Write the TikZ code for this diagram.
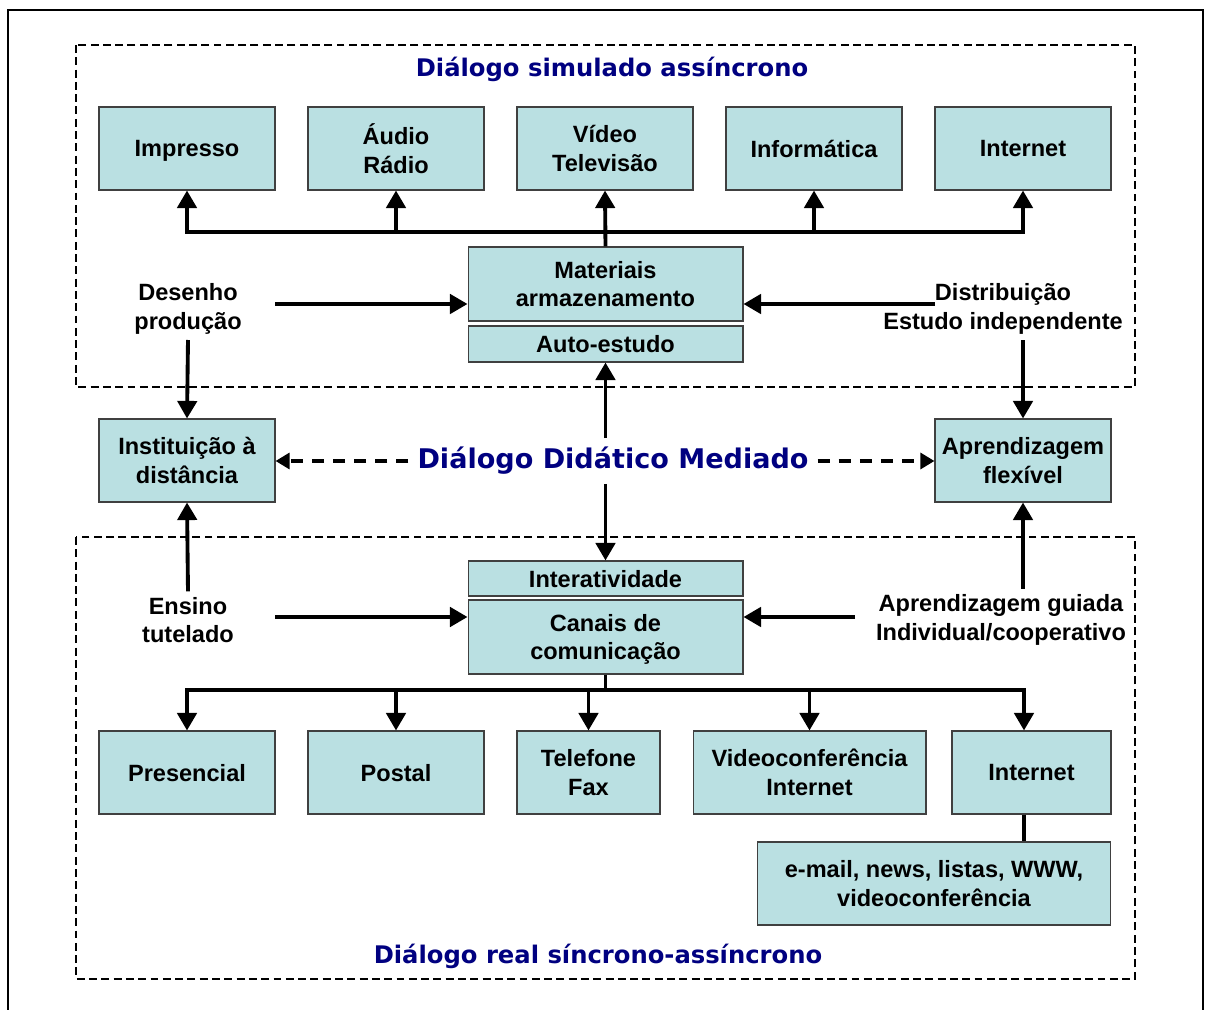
\documentclass[tikz,border=0pt]{standalone}
\usepackage{fontspec}
\setmainfont{Liberation Sans}
\newfontfamily\titlefont{DejaVu Sans}
\usetikzlibrary{arrows.meta}

\definecolor{boxfill}{RGB}{186,224,226}
\definecolor{titleblue}{RGB}{0,0,128}
\newcommand\boxfont{\bfseries\fontsize{13.4pt}{16.4pt}\selectfont}

\tikzset{
  caixa/.style={draw=black!75, fill=boxfill, line width=0.6pt, align=center,
    inner sep=0pt, text depth=0pt, minimum width=3.52cm, minimum height=1.66cm, font=\boxfont},
  rotulo/.style={align=center, inner sep=3pt, font=\boxfont},
  titulo/.style={font=\titlefont\bfseries\fontsize{13.8pt}{16pt}\selectfont, text=titleblue},
  titulogrande/.style={font=\titlefont\bfseries\fontsize{15.4pt}{19pt}\selectfont, text=titleblue, inner sep=5pt},
  linha/.style={line width=2.2pt},
  seta/.style={line width=2.2pt, -{Triangle[length=10pt,width=11pt]}},
  setas/.style={line width=2.2pt, {Triangle[length=10pt,width=11pt]}-{Triangle[length=10pt,width=11pt]}},
  tracejada/.style={line width=2pt, dash pattern=on 7pt off 5pt, -{Triangle[length=8pt,width=9pt]}},
  quadro/.style={line width=1.1pt, dash pattern=on 4.5pt off 2.5pt},
}

\begin{document}
\begin{tikzpicture}[x=0.02cm, y=-0.02cm]
  \useasboundingbox (0,0) rectangle (1205,1010);
  \draw[line width=1.2pt] (8,1015) -- (8,10) -- (1203,10) -- (1203,1015);

  \draw[quadro] (76,45) rectangle (1135,387);
  \draw[quadro] (76,537) rectangle (1135,979);

  \node[titulo] (simulado) at (612,69) {Diálogo simulado assíncrono};
  \node[titulo] (real) at (598,956) {Diálogo real síncrono-assíncrono};

  % materiais
  \node[caixa] (impresso) at (187,148.5) {Impresso};
  \node[caixa] (audio) at (396,148.5) {Áudio\\Rádio};
  \node[caixa] (video) at (605,148.5) {Vídeo\\Televisão};
  \node[caixa] (informatica) at (814,148.5) {Informática};
  \node[caixa] (internet) at (1023,148.5) {Internet};

  \node[caixa, minimum width=5.5cm, minimum height=1.48cm] (materiais) at (605.5,284) {Materiais\\armazenamento};
  \node[caixa, minimum width=5.5cm, minimum height=0.72cm] (autoestudo) at (605.5,344) {Auto-estudo};

  \node[rotulo] (desenho) at (188,309) {Desenho\\produção};
  \node[rotulo] (distribuicao) at (1003,309) {Distribuição\\Estudo independente};

  \coordinate (barra) at (0,232);
  \draw[seta] (materiais.north) -- (video.south);
  \draw[setas] (impresso.south) -- (impresso.south |- barra) -- (internet.south |- barra) -- (internet.south);
  \draw[seta] (audio.south |- barra) -- (audio.south);
  \draw[seta] (informatica.south |- barra) -- (informatica.south);

  \coordinate (d1) at (275,304);
  \coordinate (d2) at (935,304);
  \draw[seta] (d1) -- (d1 -| materiais.west);
  \draw[seta] (d2) -- (d2 -| materiais.east);

  % centro
  \node[caixa] (instituicao) at (187,460.5) {Instituição à\\distância};
  \node[caixa] (flexivel) at (1023,460.5) {Aprendizagem\\flexível};
  \node[titulogrande] (dialogo) at (613,461) {Diálogo Didático Mediado};

  \draw[seta] (desenho.south) -- (instituicao.north);
  \draw[seta] (distribuicao.south -| flexivel.north) -- (flexivel.north);
  \draw[tracejada] (dialogo.west) -- (dialogo.west -| instituicao.east);
  \draw[tracejada] (dialogo.east) -- (dialogo.east -| flexivel.west);

  % canais
  \node[caixa, minimum width=5.5cm, minimum height=0.7cm] (interatividade) at (605.5,578.5) {Interatividade};
  \node[caixa, minimum width=5.5cm, minimum height=1.48cm] (canais) at (605.5,637) {Canais de\\comunicação};

  \draw[seta] (dialogo.north -| autoestudo.south) -- (autoestudo.south);
  \draw[seta] (dialogo.south -| interatividade.north) -- (interatividade.north);

  \node[rotulo] (ensino) at (188,620) {Ensino\\tutelado};
  \node[rotulo] (guiada) at (1001,620) {Aprendizagem guiada\\Individual/cooperativo};

  \draw[seta] (ensino.north) -- (instituicao.south);
  \draw[seta] (guiada.north -| flexivel.south) -- (flexivel.south);

  \coordinate (e1) at (275,617);
  \coordinate (e2) at (855,617);
  \draw[seta] (e1) -- (e1 -| canais.west);
  \draw[seta] (e2) -- (e2 -| canais.east);

  \node[caixa] (presencial) at (187,772.5) {Presencial};
  \node[caixa] (postal) at (396,772.5) {Postal};
  \node[caixa, minimum width=2.86cm] (telefone) at (588.5,772.5) {Telefone\\Fax};
  \node[caixa, minimum width=4.66cm] (videoconf) at (809.5,772.5) {Videoconferência\\Internet};
  \node[caixa, minimum width=3.18cm] (internetb) at (1031.5,772.5) {Internet};
  \node[caixa, minimum width=7.08cm] (email) at (934,883.5) {e-mail, news, listas, WWW,\\videoconferência};

  \coordinate (barrab) at (0,690);
  \coordinate (col) at (1024,0);
  \draw[linha] (canais.south) -- (canais.south |- barrab);
  \draw[setas] (presencial.north) -- (presencial.north |- barrab) -- (col |- barrab) -- (col |- internetb.north);
  \draw[seta] (postal.north |- barrab) -- (postal.north);
  \draw[seta] (telefone.north |- barrab) -- (telefone.north);
  \draw[seta] (videoconf.north |- barrab) -- (videoconf.north);
  \draw[linha] (col |- internetb.south) -- (col |- email.north);
\end{tikzpicture}
\end{document}
